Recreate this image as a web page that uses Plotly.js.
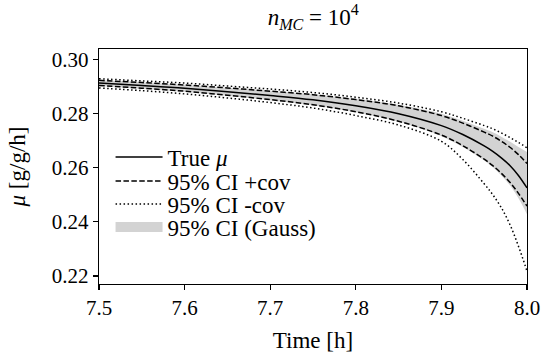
<!DOCTYPE html>
<html>
<head>
<meta charset="utf-8">
<script src="https://cdn.plot.ly/plotly-3.0.1.min.js"></script>
<style>html,body{margin:0;padding:0;background:#fff;}#chart{width:542px;height:353px;}</style>
</head>
<body>
<div id="chart"></div>
<script>
// Time grid [h]
const time = [7.5, 7.55, 7.6, 7.65, 7.7, 7.75, 7.8, 7.85, 7.9, 7.925, 7.95, 7.96, 7.97, 7.98, 7.99, 8.0];
// True growth rate mu [g/g/h]
const muTrue = [0.2912, 0.2903, 0.2893, 0.2880, 0.2866, 0.2850, 0.2828, 0.2799, 0.2755, 0.2722, 0.2680, 0.2660, 0.2636, 0.2608, 0.2571, 0.2525];
// 95% CI +cov (dashed)
const ciCovUpper = [0.2922, 0.2914, 0.2905, 0.2894, 0.2882, 0.2869, 0.2851, 0.2828, 0.2792, 0.2764, 0.2731, 0.2716, 0.2697, 0.2675, 0.2648, 0.2615];
const ciCovLower = [0.2903, 0.2893, 0.2882, 0.2867, 0.2851, 0.2832, 0.2806, 0.2771, 0.2720, 0.2681, 0.2631, 0.2607, 0.2579, 0.2546, 0.2505, 0.2458];
// 95% CI -cov (dotted)
const ciNoCovUpper = [0.2928, 0.2920, 0.2912, 0.2901, 0.2890, 0.2877, 0.2860, 0.2838, 0.2806, 0.2782, 0.2755, 0.2743, 0.2728, 0.2711, 0.2693, 0.2673];
const ciNoCovLower = [0.2894, 0.2884, 0.2872, 0.2857, 0.2840, 0.2820, 0.2792, 0.2757, 0.2697, 0.2630, 0.2540, 0.2500, 0.2452, 0.2390, 0.2310, 0.2218];
// 95% CI (Gauss) band
const gaussUpper = [0.2923, 0.2915, 0.2906, 0.2895, 0.2884, 0.2871, 0.2854, 0.2832, 0.2799, 0.2773, 0.2743, 0.2730, 0.2714, 0.2696, 0.2676, 0.2658];
const gaussLower = [0.2901, 0.2891, 0.2880, 0.2865, 0.2849, 0.2830, 0.2804, 0.2769, 0.2716, 0.2676, 0.2626, 0.2601, 0.2571, 0.2535, 0.2487, 0.2428];

const xTicks = [7.5, 7.6, 7.7, 7.8, 7.9, 8.0];
const xTickText = ['7.5', '7.6', '7.7', '7.8', '7.9', '8.0'];
const yTicks = [0.22, 0.24, 0.26, 0.28, 0.30];
const yTickText = ['0.22', '0.24', '0.26', '0.28', '0.30'];

const FONT = '"Liberation Serif", "Times New Roman", serif';
const lw = 1.5;
const DASH = '5.5px,2.4px';
const DOT = '1.5px,2.5px';
const GRAY = '#d3d3d3';

const traces = [
  {x: time, y: gaussLower, mode: 'lines', line: {width: 0, color: GRAY, shape: 'spline'}, showlegend: false, hoverinfo: 'skip'},
  {x: time, y: gaussUpper, mode: 'lines', line: {width: 0, color: GRAY, shape: 'spline'}, fill: 'tonexty', fillcolor: GRAY, showlegend: false},
  {x: time, y: muTrue, mode: 'lines', line: {width: lw, color: '#000', shape: 'spline'}, name: 'True <i>μ</i>', legend: 'legend'},
  {x: time, y: ciCovUpper, mode: 'lines', line: {width: lw, color: '#000', dash: DASH, shape: 'spline'}, name: '95% CI +cov', legend: 'legend2'},
  {x: time, y: ciCovLower, mode: 'lines', line: {width: lw, color: '#000', dash: DASH, shape: 'spline'}, showlegend: false},
  {x: time, y: ciNoCovUpper, mode: 'lines', line: {width: lw, color: '#000', dash: DOT, shape: 'spline'}, name: '95% CI -cov', legend: 'legend3'},
  {x: time, y: ciNoCovLower, mode: 'lines', line: {width: lw, color: '#000', dash: DOT, shape: 'spline'}, showlegend: false},
  // legend handle for the Gauss band (no data drawn)
  {x: [null], y: [null], mode: 'lines', line: {width: 12, color: GRAY}, name: '95% CI (Gauss)', legend: 'legend4'}
];

function leg(yc) {
  return {
    x: 0.027, xanchor: 'left', y: yc, yanchor: 'middle',
    bgcolor: 'rgba(255,255,255,0)', borderwidth: 0, itemwidth: 47,
    font: {family: FONT, size: 23, color: '#000'}
  };
}

const layout = {
  width: 542, height: 353,
  margin: {l: 99, r: 15, t: 49, b: 69},
  paper_bgcolor: '#fff', plot_bgcolor: '#fff',
  font: {family: FONT, size: 21, color: '#000'},
  title: {text: '<i>n</i><sub><i>MC</i></sub> = 10<sup>4</sup>', x: 0.578, xanchor: 'center', y: 0.952, yanchor: 'middle', font: {family: FONT, size: 23, color: '#000'}},
  xaxis: {
    range: [7.5, 8.0], tickvals: xTicks, ticktext: xTickText,
    showline: true, mirror: true, linecolor: '#000', linewidth: 1.25,
    ticks: 'outside', ticklen: 5, tickwidth: 1.25, tickcolor: '#000',
    showgrid: false, zeroline: false,
    title: {text: 'Time [h]', standoff: 23, font: {family: FONT, size: 23}},
    tickfont: {family: FONT, size: 21}
  },
  yaxis: {
    range: [0.21704, 0.30377], tickvals: yTicks, ticktext: yTickText,
    showline: true, mirror: true, linecolor: '#000', linewidth: 1.25,
    ticks: 'outside', ticklen: 5, tickwidth: 1.25, tickcolor: '#000',
    showgrid: false, zeroline: false,
    title: {text: '<i>μ</i> [g/g/h]', standoff: 19, font: {family: FONT, size: 23}},
    tickfont: {family: FONT, size: 21}
  },
  legend: leg(0.5404),
  legend2: leg(0.4383),
  legend3: leg(0.3400),
  legend4: leg(0.2420),
  showlegend: true
};

Plotly.newPlot('chart', traces, layout, {staticPlot: true, displayModeBar: false});
</script>
</body>
</html>
